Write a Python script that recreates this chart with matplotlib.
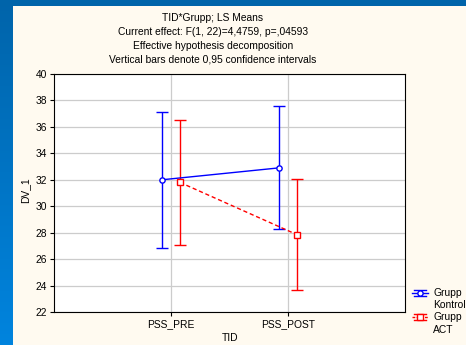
import matplotlib
matplotlib.use("Agg")
import matplotlib.pyplot as plt
import numpy as np
from matplotlib.lines import Line2D
from matplotlib.colors import LinearSegmentedColormap

plt.rcParams['font.family'] = ['Liberation Sans', 'DejaVu Sans']

categories = ["PSS_PRE", "PSS_POST"]
kontrol_mean = [32.0, 32.9]
kontrol_low = [26.85, 28.3]
kontrol_high = [37.15, 37.55]
act_mean = [31.8, 27.85]
act_low = [27.05, 23.65]
act_high = [36.5, 32.05]
yticks = [22, 24, 26, 28, 30, 32, 34, 36, 38, 40]
title_lines = ["TID*Grupp; LS Means",
               "Current effect: F(1, 22)=4,4759, p=,04593",
               "Effective hypothesis decomposition",
               "Vertical bars denote 0,95 confidence intervals"]

FS = 7.4
W, H = 466, 345
fig = plt.figure(figsize=(W/100, H/100), dpi=100)
fig.patch.set_facecolor('#FFFAF0')

# blue frame strips
grad = np.linspace(0, 1, 256).reshape(-1, 1)
cmap = LinearSegmentedColormap.from_list('b', ['#0064AA', '#0084DE'])
axl = fig.add_axes([0, 0, 13/W, 1])
axl.imshow(grad, aspect='auto', cmap=cmap, extent=[0, 1, 0, 1], origin='upper')
axl.axis('off')
axt = fig.add_axes([0, 1 - 6/H, 1, 6/H])
axt.set_facecolor('#0064AA')
axt.set_xticks([]); axt.set_yticks([])
for s in axt.spines.values():
    s.set_visible(False)

ax = fig.add_axes([54/W, 1 - 312/H, (405-54)/W, (312-74)/H])
ax.set_facecolor('white')
x = np.arange(len(categories))
off = 0.077
blue = '#0000FF'
red = '#FF0000'

km = np.array(kontrol_mean); am = np.array(act_mean)
ax.errorbar(x - off, km, yerr=[km - np.array(kontrol_low), np.array(kontrol_high) - km],
            color=blue, lw=1, marker='o', ms=3.8, mfc='white', mec=blue, mew=1,
            capsize=4.3, elinewidth=1, capthick=1, zorder=3)
ax.errorbar(x + off, am, yerr=[am - np.array(act_low), np.array(act_high) - am],
            color=red, lw=1, ls=(0, (3, 2)), marker='s', ms=3.8, mfc='white', mec=red, mew=1,
            capsize=4.3, elinewidth=1, capthick=1, zorder=3)

ax.set_xlim(-1, 2)
ax.set_ylim(22, 40)
ax.set_xticks(x)
ax.set_xticklabels(categories, fontsize=FS)
ax.set_yticks(yticks)
ax.set_yticklabels([str(v) for v in yticks], fontsize=FS)
ax.tick_params(direction='out', length=3, width=0.8, pad=2, colors='black')
ax.grid(True, color='#CCCCCC', lw=0.9)
ax.set_axisbelow(True)
for s in ax.spines.values():
    s.set_color('black'); s.set_linewidth(0.8)

fig.text(25/W, 1 - 190/H, "DV_1", rotation=90, fontsize=FS, ha='center', va='center')
fig.text(230/W, 1 - 338/H, "TID", fontsize=FS, ha='center', va='center')

for i, t in enumerate(title_lines):
    fig.text(213/W, 1 - (18 + 14*i)/H, t, fontsize=FS, ha='center', va='center')

# legend
def leg_item(y, color, marker, ls):
    x0, x1 = 412/W, 428/W
    yy = 1 - y/H
    fig.add_artist(Line2D([x0, x1], [yy, yy], color=color, lw=1, ls=ls, transform=fig.transFigure))
    for dy in (-3, 3):
        fig.add_artist(Line2D([x0+2/W, x1-2/W], [yy+dy/H, yy+dy/H], color=color, lw=1, transform=fig.transFigure))
    fig.add_artist(Line2D([(x0+x1)/2], [yy], color=color, marker=marker, ms=3.8, mfc='white', mec=color,
                          mew=1, ls='none', transform=fig.transFigure))

leg_item(293, blue, 'o', '-')
leg_item(317, red, 's', (0, (2, 1)))
fig.text(433/W, 1 - 293/H, "Grupp", fontsize=FS, va='center')
fig.text(433/W, 1 - 305/H, "Kontrol", fontsize=FS, va='center')
fig.text(433/W, 1 - 317/H, "Grupp", fontsize=FS, va='center')
fig.text(433/W, 1 - 330/H, "ACT", fontsize=FS, va='center')

fig.savefig("out.png", dpi=100, facecolor=fig.get_facecolor())
